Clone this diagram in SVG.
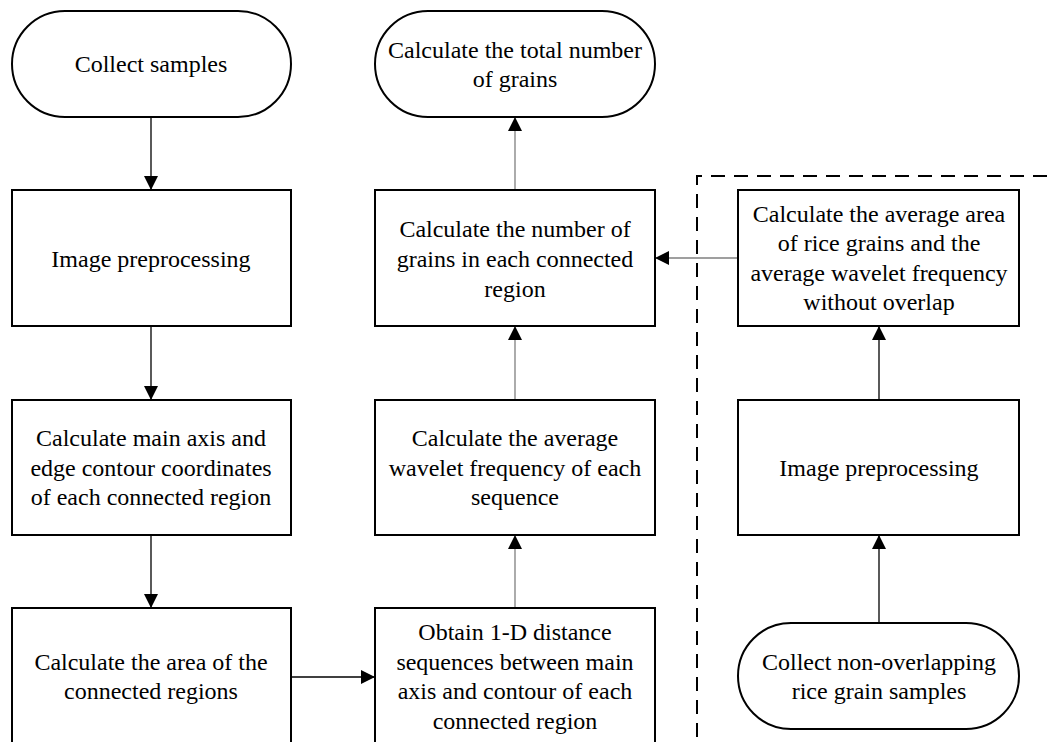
<svg xmlns="http://www.w3.org/2000/svg" width="1054" height="742" viewBox="0 0 1054 742">
<style>
.box{fill:#fff;stroke:#000;stroke-width:2}
.t{font-family:"Liberation Serif","Times New Roman",serif;font-size:24px;fill:#000;text-anchor:middle;dominant-baseline:central}
.c{fill:none;stroke-width:1.3}
.g{stroke:#7f7f7f}
.k{stroke:#000}
.dash{fill:none;stroke:#000;stroke-width:2;stroke-dasharray:14 9}
</style>
<defs>
<marker id="ah" viewBox="0 0 14 14" refX="14" refY="7" markerWidth="14" markerHeight="14" markerUnits="userSpaceOnUse" orient="auto">
<path d="M0,0 L14,7 L0,14 Z" fill="#000"/>
</marker>
</defs>
<rect width="1054" height="742" fill="#fff"/>
<path class="dash" d="M697,760 L697,176 L1060,176"/>
<g id="connectors">
<line class="c k" x1="151" y1="117" x2="151" y2="190" marker-end="url(#ah)"/>
<line class="c k" x1="151" y1="326" x2="151" y2="400" marker-end="url(#ah)"/>
<line class="c k" x1="151" y1="535" x2="151" y2="608" marker-end="url(#ah)"/>
<line class="c k" x1="291" y1="677" x2="375" y2="677" marker-end="url(#ah)"/>
<line class="c g" x1="515" y1="608" x2="515" y2="535" marker-end="url(#ah)"/>
<line class="c g" x1="515" y1="400" x2="515" y2="326" marker-end="url(#ah)"/>
<line class="c g" x1="515" y1="190" x2="515" y2="117" marker-end="url(#ah)"/>
<line class="c g" x1="738" y1="258" x2="655" y2="258" marker-end="url(#ah)"/>
<line class="c k" x1="879" y1="400" x2="879" y2="326" marker-end="url(#ah)"/>
<line class="c k" x1="879" y1="623" x2="879" y2="535" marker-end="url(#ah)"/>
</g>
<g id="n1"><rect class="box" x="12" y="11" width="279" height="106" rx="53"/><text class="t" x="151" y="64">Collect samples</text></g>
<g id="n2"><rect class="box" x="12" y="190" width="279" height="136"/><text class="t" x="151" y="259">Image preprocessing</text></g>
<g id="n3"><rect class="box" x="12" y="400" width="279" height="135"/><text class="t" x="151" y="438">Calculate main axis and</text><text class="t" x="151" y="468">edge contour coordinates</text><text class="t" x="151" y="497">of each connected region</text></g>
<g id="n4"><rect class="box" x="12" y="608" width="279" height="150"/><text class="t" x="151" y="662">Calculate the area of the</text><text class="t" x="151" y="691">connected regions</text></g>
<g id="n5"><rect class="box" x="375" y="608" width="280" height="150"/><text class="t" x="515" y="632">Obtain 1-D distance</text><text class="t" x="515" y="662">sequences between main</text><text class="t" x="515" y="691">axis and contour of each</text><text class="t" x="515" y="721">connected region</text></g>
<g id="n6"><rect class="box" x="375" y="400" width="280" height="135"/><text class="t" x="515" y="438">Calculate the average</text><text class="t" x="515" y="468">wavelet frequency of each</text><text class="t" x="515" y="497">sequence</text></g>
<g id="n7"><rect class="box" x="375" y="190" width="280" height="136"/><text class="t" x="515" y="229">Calculate the number of</text><text class="t" x="515" y="259">grains in each connected</text><text class="t" x="515" y="289">region</text></g>
<g id="n8"><rect class="box" x="375" y="11" width="280" height="106" rx="53"/><text class="t" x="515" y="50">Calculate the total number</text><text class="t" x="515" y="79">of grains</text></g>
<g id="n9"><rect class="box" x="738" y="190" width="281" height="136"/><text class="t" x="879" y="214">Calculate the average area</text><text class="t" x="879" y="243">of rice grains and the</text><text class="t" x="879" y="273">average wavelet frequency</text><text class="t" x="879" y="302">without overlap</text></g>
<g id="n10"><rect class="box" x="738" y="400" width="281" height="135"/><text class="t" x="879" y="468">Image preprocessing</text></g>
<g id="n11"><rect class="box" x="738" y="623" width="281" height="106" rx="53"/><text class="t" x="879" y="662">Collect non-overlapping</text><text class="t" x="879" y="691">rice grain samples</text></g>
</svg>
